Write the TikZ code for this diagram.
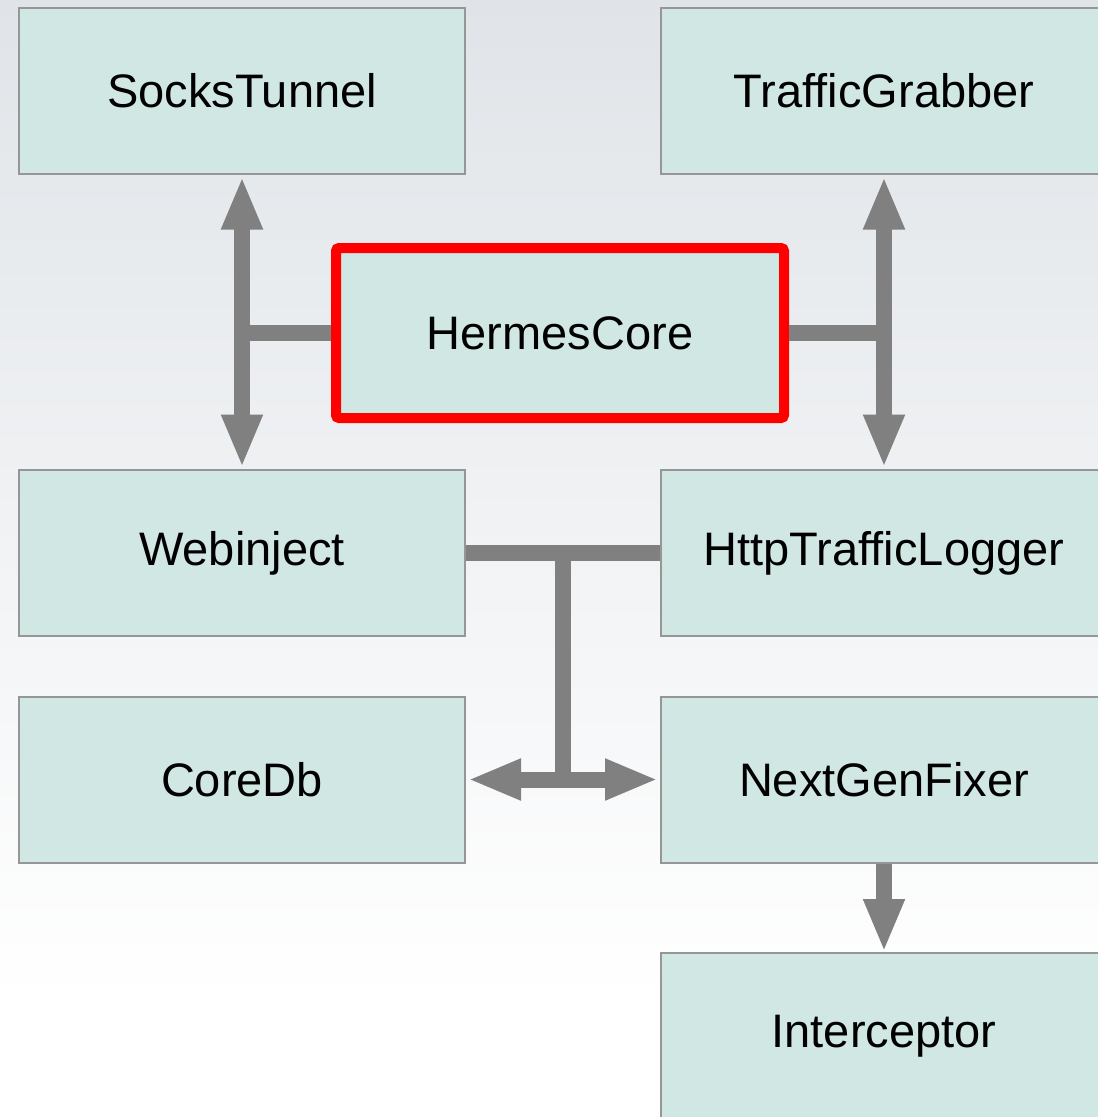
\documentclass[tikz,border=0pt]{standalone}
\usepackage{fontspec}
\setmainfont{Liberation Sans}
\usetikzlibrary{arrows.meta}
\definecolor{bgtop}{RGB}{224,228,232}
\definecolor{boxfill}{RGB}{208,231,228}
\definecolor{boxline}{RGB}{150,150,150}
\definecolor{linkgray}{RGB}{128,128,128}
\tikzset{
  module/.style={draw=boxline, line width=2pt, fill=boxfill,
    minimum width=446pt, minimum height=166pt, inner sep=0pt,
    font=\fontsize{47}{56}\selectfont, text=black},
  corebox/.style={module, draw=red, line width=10pt, rounded corners=3pt,
    minimum width=448pt, minimum height=170pt},
  link/.style={draw=linkgray, line width=16pt},
  fat/.style={link, >={Triangle[width=38pt, length=53pt]}}
}
\begin{document}
\begin{tikzpicture}[x=1pt, y=-1pt]
  \useasboundingbox (0,0) rectangle (1098,1117);
  \clip (0,0) rectangle (1098,1117);
  % page background fading from grey-blue to white
  \shade[top color=bgtop, bottom color=white] (0,0) rectangle (1098,1000);
  \fill[white] (0,1000) rectangle (1098,1117);

  % modules
  \node[module] (st)  at (242,91)   {SocksTunnel};
  \node[module] (tg)  at (884,91)   {TrafficGrabber};
  \node[corebox] (hc) at (560,333)  {HermesCore};
  \node[module] (wi)  at (242,553)  {Webinject};
  \node[module] (hl)  at (884,553)  {HttpTrafficLogger};
  \node[module] (db)  at (242,779.5) {CoreDb};
  \node[module] (ng)  at (884,779.5) {NextGenFixer};
  \node[module] (ic)  at (884,1036) {Interceptor};

  % HermesCore links to the left and right buses
  \draw[fat, <->, shorten <=1.5pt, shorten >=1.5pt] (st.south) -- (wi.north);
  \draw[link] (hc.west) -- (st.south |- hc.west);
  \draw[fat, <->, shorten <=1.5pt, shorten >=1.5pt] (tg.south) -- (hl.north);
  \draw[link] (hc.east) -- (tg.south |- hc.east);

  % Webinject / HttpTrafficLogger bus down to CoreDb and NextGenFixer
  \coordinate (busTop) at (563,553);
  \draw[link] (wi.east) -- (hl.west);
  \draw[link] (busTop) -- (busTop |- db.east);
  \draw[fat, <->, shorten <=2pt, shorten >=2pt] (db.east) -- (ng.west);

  % NextGenFixer to Interceptor
  \draw[fat, ->] (ng.south) -- (ic.north);
\end{tikzpicture}
\end{document}
